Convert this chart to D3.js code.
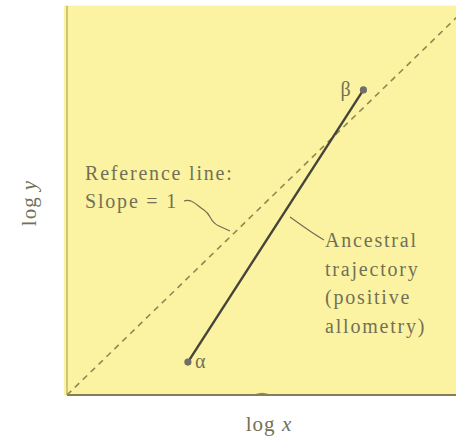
<!DOCTYPE html>
<html>
<head>
<meta charset="utf-8">
<script src="https://cdn.jsdelivr.net/npm/d3@7"></script>
<style>
  html, body { margin: 0; padding: 0; background: #ffffff; }
  svg { display: block; }
  text { font-family: "Liberation Serif", "DejaVu Serif", serif; fill: #727056; }
</style>
</head>
<body>
<svg id="chart" width="456" height="446"></svg>
<script>
// Log-log allometry plot: reference isometry line and the ancestral trajectory
const axisDomain = [0, 10];
const refLineX = [0, 10.3];                 // slope = 1 reference line, log x extent
const trajectoryNames = ["α", "β"];
const trajectoryX = [3.1, 7.6];             // log x of start / end stage
const trajectoryY = [0.87, 8.07];           // log y of start / end stage
const refLabelLines = ["Reference line:", "Slope = 1"];
const ancLabelLines = ["Ancestral", "trajectory", "(positive", "allometry)"];
const xAxisTitle = ["log ", "x"];
const yAxisTitle = ["log ", "y"];

const svg = d3.select("#chart");
const x = d3.scaleLinear().domain(axisDomain).range([67, 457]);
const y = d3.scaleLinear().domain(axisDomain).range([395, 17]);

// plot panel
svg.append("rect")
  .attr("x", x(-0.08)).attr("y", y(10.3))
  .attr("width", 456 - x(-0.08)).attr("height", y(0) - y(10.3))
  .attr("fill", "#fbf3a2");

// axes (bare lines, one small mid tick on x)
svg.append("line")
  .attr("x1", x(0)).attr("x2", x(0)).attr("y1", y(10.3)).attr("y2", y(0))
  .attr("stroke", "#c2b665").attr("stroke-width", 1.5);
svg.append("line")
  .attr("x1", x(0)).attr("x2", 456).attr("y1", y(0)).attr("y2", y(0))
  .attr("stroke", "#857e56").attr("stroke-width", 2.2);
svg.append("path")
  .attr("d", `M${x(4.82)},${y(0) - 0.5} Q${x(5)},${y(0) - 3} ${x(5.18)},${y(0) - 0.5}`)
  .attr("fill", "none").attr("stroke", "#857e56").attr("stroke-width", 1);

// slope = 1 reference line
const line = d3.line().x(d => x(d[0])).y(d => y(d[1]));
svg.append("path")
  .datum(refLineX.map(v => [v, v]))
  .attr("d", line)
  .attr("fill", "none").attr("stroke", "#8f8850")
  .attr("stroke-width", 1.6).attr("stroke-dasharray", "6,5");

// ancestral trajectory
const traj = trajectoryX.map((v, i) => [v, trajectoryY[i]]);
svg.append("path")
  .datum(traj)
  .attr("d", line)
  .attr("fill", "none").attr("stroke", "#45443a").attr("stroke-width", 2.4);

svg.selectAll("circle.stage")
  .data(traj)
  .join("circle")
  .attr("class", "stage")
  .attr("cx", d => x(d[0])).attr("cy", d => y(d[1]))
  .attr("r", 3.6).attr("fill", "#6f6f68");

svg.selectAll("text.stage")
  .data(traj)
  .join("text")
  .attr("class", "stage")
  .attr("x", (d, i) => x(d[0]) + (i === 0 ? 7 : -23))
  .attr("y", (d, i) => y(d[1]) + 6)
  .attr("font-size", 20)
  .text((d, i) => trajectoryNames[i]);

// annotation text
svg.append("text")
  .attr("x", 85).attr("y", 180)
  .attr("font-size", 20).attr("letter-spacing", 1.8)
  .selectAll("tspan").data(refLabelLines).join("tspan")
  .attr("x", 85).attr("dy", (d, i) => i === 0 ? 0 : 28)
  .text(d => d);

svg.append("text")
  .attr("x", 325).attr("y", 247)
  .attr("font-size", 20).attr("letter-spacing", 1.8)
  .selectAll("tspan").data(ancLabelLines).join("tspan")
  .attr("x", 325).attr("dy", (d, i) => i === 0 ? 0 : 28.5)
  .text(d => d);

// leader lines
svg.append("path")
  .attr("d", "M184,201 C192,198 197,206 204,210 C212,215 209,222 219,226 L230,231")
  .attr("fill", "none").attr("stroke", "#6e6c52").attr("stroke-width", 1.1);
svg.append("path")
  .attr("d", "M290,217 C300,224 310,232 324,240")
  .attr("fill", "none").attr("stroke", "#6e6c52").attr("stroke-width", 1.1);

// axis titles
const xt = svg.append("text")
  .attr("x", 269).attr("y", 431)
  .attr("text-anchor", "middle").attr("font-size", 21).attr("letter-spacing", 1);
xt.append("tspan").text(xAxisTitle[0]);
xt.append("tspan").attr("font-style", "italic").text(xAxisTitle[1]);

const yt = svg.append("text")
  .attr("transform", "translate(36,203) rotate(-90)")
  .attr("text-anchor", "middle").attr("font-size", 21).attr("letter-spacing", 1);
yt.append("tspan").text(yAxisTitle[0]);
yt.append("tspan").attr("font-style", "italic").text(yAxisTitle[1]);
</script>
</body>
</html>
